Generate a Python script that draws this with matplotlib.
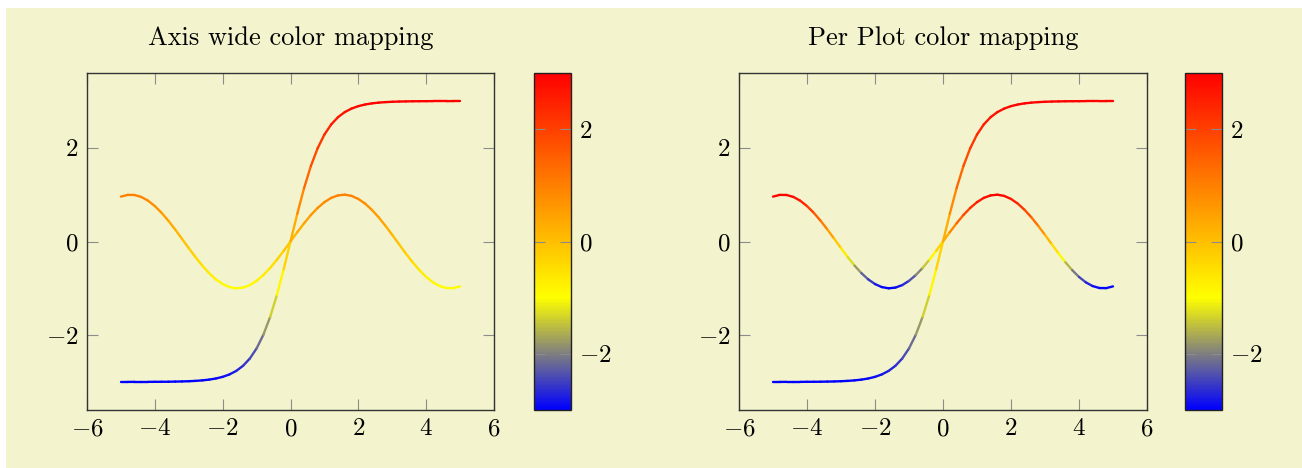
import numpy as np
import matplotlib
matplotlib.use("Agg")
import matplotlib.pyplot as plt
from matplotlib.collections import LineCollection
from matplotlib.colors import LinearSegmentedColormap, Normalize
from matplotlib.cm import ScalarMappable
from matplotlib.patches import Rectangle

# ------------------------------------------ Data ------------------------------------------ #

x_vals = [-5.0, -4.8, -4.6, -4.4, -4.2, -4.0, -3.8, -3.6, -3.4, -3.2,
          -3.0, -2.8, -2.6, -2.4, -2.2, -2.0, -1.8, -1.6, -1.4, -1.2,
          -1.0, -0.8, -0.6, -0.4, -0.2, 0.0, 0.2, 0.4, 0.6, 0.8,
          1.0, 1.2, 1.4, 1.6, 1.8, 2.0, 2.2, 2.4, 2.6, 2.8,
          3.0, 3.2, 3.4, 3.6, 3.8, 4.0, 4.2, 4.4, 4.6, 4.8, 5.0]

# wave curve
wave_vals = [0.959, 0.996, 0.994, 0.952, 0.872, 0.757, 0.612, 0.443, 0.256, 0.058,
             -0.141, -0.335, -0.516, -0.676, -0.809, -0.909, -0.974, -1.000, -0.985, -0.932,
             -0.841, -0.717, -0.565, -0.389, -0.199, 0.000, 0.199, 0.389, 0.565, 0.717,
             0.841, 0.932, 0.985, 1.000, 0.974, 0.909, 0.809, 0.676, 0.516, 0.335,
             0.141, -0.058, -0.256, -0.443, -0.612, -0.757, -0.872, -0.952, -0.994, -0.996, -0.959]

# s-shaped curve
step_vals = [-3.000, -3.000, -2.999, -2.999, -2.999, -2.998, -2.997, -2.996, -2.993, -2.990,
             -2.985, -2.978, -2.967, -2.951, -2.927, -2.892, -2.840, -2.765, -2.656, -2.501,
             -2.285, -1.992, -1.611, -1.140, -0.592, 0.000, 0.592, 1.140, 1.611, 1.992,
             2.285, 2.501, 2.656, 2.765, 2.840, 2.892, 2.927, 2.951, 2.967, 2.978,
             2.985, 2.990, 2.993, 2.996, 2.997, 2.998, 2.999, 2.999, 2.999, 3.000, 3.000]

titles = ["Axis wide color mapping", "Per Plot color mapping"]
x_ticks = [-6, -4, -2, 0, 2, 4, 6]
y_ticks = [-2, 0, 2]
cbar_ticks = [-2, 0, 2]
axis_range = (-3, 3)

# ------------------------------------------ Style ------------------------------------------ #

plt.rcParams["font.family"] = ["cmr10", "DejaVu Serif"]
plt.rcParams["mathtext.fontset"] = "cm"
plt.rcParams["axes.formatter.use_mathtext"] = True
plt.rcParams["axes.unicode_minus"] = True

BG = "#f3f4cd"
FS = 18
cmap = LinearSegmentedColormap.from_list(
    "hot_pgf", [(0, 0, 1), (1, 1, 0), (1, 0.5, 0), (1, 0, 0)])

W, H = 1302, 468
fig = plt.figure(figsize=(W / 100, H / 100), dpi=100, facecolor="white")
fig.patches.append(Rectangle((6 / W, 0), 1 - 6 / W, 1 - 8 / H,
                             transform=fig.transFigure, facecolor=BG,
                             edgecolor="none", zorder=-10))


def px_box(left, top, right, bottom):
    return [left / W, 1 - bottom / H, (right - left) / W, (bottom - top) / H]


def colored_line(ax, xs, ys, norm):
    pts = np.column_stack([xs, ys]).reshape(-1, 1, 2)
    segs = np.concatenate([pts[:-1], pts[1:]], axis=1)
    mids = 0.5 * (np.asarray(ys[:-1]) + np.asarray(ys[1:]))
    lc = LineCollection(segs, colors=cmap(norm(mids)), linewidths=1.7,
                        capstyle="round", joinstyle="round")
    ax.add_collection(lc)


layout = [
    (px_box(87, 73, 494, 410), px_box(534, 73, 571, 410)),
    (px_box(739, 73, 1147, 410), px_box(1185, 73, 1222, 410)),
]

for i, (ax_box, cb_box) in enumerate(layout):
    ax = fig.add_axes(ax_box)
    ax.set_facecolor(BG)
    full_norm = Normalize(*axis_range)
    if i == 0:
        colored_line(ax, x_vals, wave_vals, full_norm)
    else:
        colored_line(ax, x_vals, wave_vals, Normalize(min(wave_vals), max(wave_vals)))
    colored_line(ax, x_vals, step_vals, full_norm)

    ax.set_xlim(-6, 6)
    ax.set_ylim(-3.6, 3.6)
    ax.set_xticks(x_ticks)
    ax.set_yticks(y_ticks)
    ax.tick_params(direction="in", length=8, width=0.8, color="#8c8c8c",
                   top=True, right=True, labelsize=FS, pad=6)
    for sp in ax.spines.values():
        sp.set_linewidth(1.0)
        sp.set_color("#333333")
    ax.text(0.5, 1 + 35 / 337, titles[i], transform=ax.transAxes,
            ha="center", va="center", fontsize=19)

    cax = fig.add_axes(cb_box)
    cb = fig.colorbar(ScalarMappable(norm=full_norm, cmap=cmap), cax=cax)
    cb.set_ticks(cbar_ticks)
    cb.outline.set_linewidth(1.0)
    cb.outline.set_edgecolor("#222222")
    cax.tick_params(direction="in", length=8, width=0.8, color="#8c8c8c",
                    left=True, right=True, labelleft=False, labelright=True,
                    labelsize=FS, pad=6)

fig.savefig("out.png", dpi=100, facecolor="white")
